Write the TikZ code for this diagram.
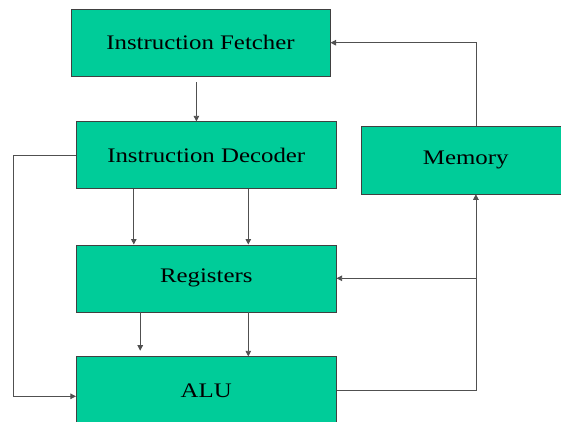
\documentclass[tikz,border=0pt]{standalone}
\usepackage{fontspec}
\setmainfont[FakeStretch=1.2]{Liberation Serif}
\usetikzlibrary{arrows.meta,calc}
\definecolor{boxgreen}{RGB}{0,204,153}
\definecolor{wire}{RGB}{80,80,80}
\tikzset{
  unit/.style={draw=black!75, line width=0.6pt, fill=boxgreen, inner sep=0pt,
    font=\fontsize{20.7}{24}\selectfont},
  arr/.style={draw=wire, line width=0.8pt, -{Triangle[length=5.5pt,width=5.5pt]}},
  wireline/.style={draw=wire, line width=0.8pt}
}
\begin{document}
\begin{tikzpicture}[x=1pt,y=-1pt]
  \useasboundingbox (0,0) rectangle (561,421);
  \clip (0,0) rectangle (561,421);
  \fill[white] (0,0) rectangle (561,421);

  % functional units
  \node[unit, minimum width=259.4pt, minimum height=66.7pt] (fetch) at (200.5,42.7) {Instruction Fetcher};
  \node[unit, minimum width=260pt, minimum height=66.6pt] (dec) at (206.25,155) {Instruction Decoder};
  \node[unit, minimum width=260pt, minimum height=67pt] (reg) at (206.25,278.3) {Registers};
  \node[unit, minimum width=260pt, minimum height=67.3pt] (alu) at (206.25,390.3) {ALU};
  \node[unit, minimum width=208.6pt, minimum height=67.3pt] (mem) at (465.7,160.3) {Memory};

  % routing points
  \coordinate (f1) at (196.4,82);
  \coordinate (d1) at (133.8,0);
  \coordinate (d2) at (248.3,0);
  \coordinate (r1) at (140.2,350.7);
  \coordinate (l1) at (13.6,396.3);
  \coordinate (bus) at (475.9,390.7);

  % fetcher to decoder
  \draw[arr] (f1) -- (f1 |- dec.north);
  % decoder to registers
  \draw[arr] (d1 |- dec.south) -- (d1 |- reg.north);
  \draw[arr] (d2 |- dec.south) -- (d2 |- reg.north);
  % registers to ALU
  \draw[arr] (r1 |- reg.south) -- (r1);
  \draw[arr] (d2 |- reg.south) -- (d2 |- alu.north);
  % decoder control line to ALU
  \draw[arr] (dec.west) -| (l1) -- (alu.west |- l1);
  % ALU result bus to memory and registers
  \draw[arr] (alu.east |- bus) -- (bus) -- (bus |- mem.south);
  \draw[arr] (bus |- reg.east) -- (reg.east);
  % memory to fetcher
  \draw[arr] (bus |- mem.north) |- (fetch.east);
\end{tikzpicture}
\end{document}
